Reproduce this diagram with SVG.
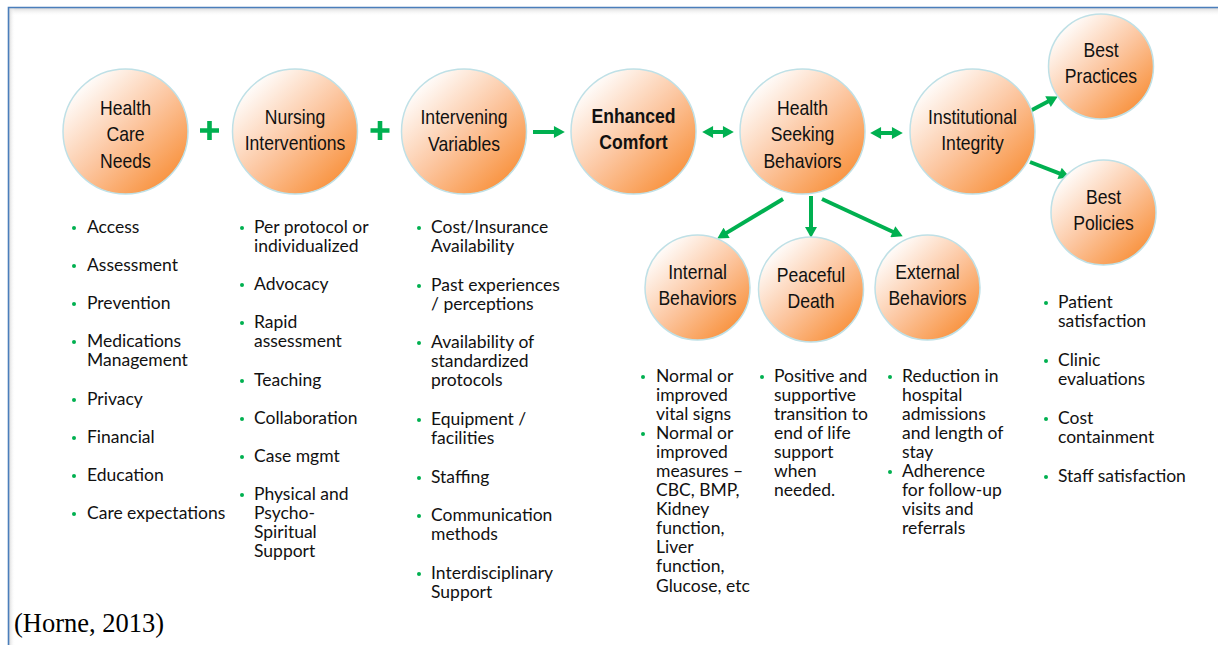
<svg xmlns="http://www.w3.org/2000/svg" width="1218" height="645" viewBox="0 0 1218 645">
  <style>
    .node circle { fill: url(#orb); stroke: #bfe0e6; stroke-width: 1.5; }
    .lbl { font-family: "Liberation Sans", Arial, sans-serif; font-size: 20px; fill: #111; text-anchor: middle; }
    .lbl.b { font-weight: bold; }
    .list { font-family: Lato, "Noto Sans", sans-serif; font-size: 17.5px; fill: #111; }
    .dot { fill: #00b050; }
    .conn line { stroke: #00b050; stroke-width: 4; }
    .plus { fill: #00b050; }
    .cite { font-family: "Liberation Serif", "Times New Roman", serif; font-size: 26.5px; fill: #000; }
  </style>
  <defs>
    <linearGradient id="orb" x1="0.15" y1="0.1" x2="0.9" y2="0.9">
      <stop offset="0" stop-color="#ffffff"/>
      <stop offset="0.5" stop-color="#fcc6a0"/>
      <stop offset="1" stop-color="#f88f38"/>
    </linearGradient>
    <linearGradient id="shadeTop" x1="0" y1="0" x2="0" y2="1">
      <stop offset="0" stop-color="#d9d9d9"/>
      <stop offset="1" stop-color="#ffffff" stop-opacity="0"/>
    </linearGradient>
    <linearGradient id="shadeLeft" x1="0" y1="0" x2="1" y2="0">
      <stop offset="0" stop-color="#d9d9d9"/>
      <stop offset="1" stop-color="#ffffff" stop-opacity="0"/>
    </linearGradient>
    <marker id="head" markerUnits="userSpaceOnUse" markerWidth="12" markerHeight="12" viewBox="0 0 10 11" refX="1" refY="5.5" orient="auto-start-reverse">
      <path d="M0,0 L10,5.5 L0,11 Z" fill="#00b050"/>
    </marker>
  </defs>

  <rect width="1218" height="645" fill="#ffffff"/>

  <!-- frame -->
  <rect x="9" y="8" width="1209" height="8" fill="url(#shadeTop)"/>
  <rect x="9" y="8" width="6" height="637" fill="url(#shadeLeft)"/>
  <path d="M8.5,645 V7.5 H1218" fill="none" stroke="#4a7ebb" stroke-width="1.6"/>

  <!-- connectors -->
  <g id="connectors" class="conn">
    <line x1="533" y1="132" x2="555" y2="132" marker-end="url(#head)"/>
    <line x1="712" y1="132" x2="724" y2="132" marker-start="url(#head)" marker-end="url(#head)"/>
    <line x1="880" y1="133" x2="893" y2="133" marker-start="url(#head)" marker-end="url(#head)"/>
    <line x1="1030" y1="111" x2="1049" y2="101.1" marker-end="url(#head)"/>
    <line x1="1030" y1="162" x2="1060.6" y2="173.8" marker-end="url(#head)"/>
    <line x1="783" y1="199" x2="725.7" y2="233.4" marker-end="url(#head)"/>
    <line x1="811" y1="196" x2="811" y2="228" marker-end="url(#head)"/>
    <line x1="822" y1="199" x2="893.8" y2="232.2" marker-end="url(#head)"/>
    <path class="plus" d="M200,128.2 H207.2 V121 H211.8 V128.2 H219 V132.8 H211.8 V140 H207.2 V132.8 H200 Z"/>
    <path class="plus" d="M370.5,128.2 H377.7 V121 H382.3 V128.2 H389.5 V132.8 H382.3 V140 H377.7 V132.8 H370.5 Z"/>
  </g>

  <!-- nodes -->
  <g id="health-care-needs" class="node">
    <circle cx="125.5" cy="131.5" r="62.5"/>
    <g transform="translate(125.5,0) scale(0.88,1)">
      <text class="lbl" x="0" y="115">Health</text>
      <text class="lbl" x="0" y="141.5">Care</text>
      <text class="lbl" x="0" y="168">Needs</text>
    </g>
  </g>
  <g id="nursing-interventions" class="node">
    <circle cx="295" cy="131.5" r="62.5"/>
    <g transform="translate(295,0) scale(0.88,1)">
      <text class="lbl" x="0" y="124">Nursing</text>
      <text class="lbl" x="0" y="150.5">Interventions</text>
    </g>
  </g>
  <g id="intervening-variables" class="node">
    <circle cx="464" cy="131.5" r="62.5"/>
    <g transform="translate(464,0) scale(0.88,1)">
      <text class="lbl" x="0" y="124.5">Intervening</text>
      <text class="lbl" x="0" y="151">Variables</text>
    </g>
  </g>
  <g id="enhanced-comfort" class="node">
    <circle cx="633.5" cy="131.5" r="62.5"/>
    <g transform="translate(633.5,0) scale(0.88,1)">
      <text class="lbl b" x="0" y="123">Enhanced</text>
      <text class="lbl b" x="0" y="149.5">Comfort</text>
    </g>
  </g>
  <g id="health-seeking-behaviors" class="node">
    <circle cx="802.5" cy="131.5" r="62.5"/>
    <g transform="translate(802.5,0) scale(0.88,1)">
      <text class="lbl" x="0" y="115">Health</text>
      <text class="lbl" x="0" y="141.5">Seeking</text>
      <text class="lbl" x="0" y="168">Behaviors</text>
    </g>
  </g>
  <g id="institutional-integrity" class="node">
    <circle cx="972.5" cy="131.5" r="62.5"/>
    <g transform="translate(972.5,0) scale(0.88,1)">
      <text class="lbl" x="0" y="124">Institutional</text>
      <text class="lbl" x="0" y="150.5">Integrity</text>
    </g>
  </g>
  <g id="best-practices" class="node">
    <circle cx="1101" cy="66.5" r="52.5"/>
    <g transform="translate(1101,0) scale(0.88,1)">
      <text class="lbl" x="0" y="57">Best</text>
      <text class="lbl" x="0" y="83">Practices</text>
    </g>
  </g>
  <g id="best-policies" class="node">
    <circle cx="1103.5" cy="212.5" r="52.5"/>
    <g transform="translate(1103.5,0) scale(0.88,1)">
      <text class="lbl" x="0" y="204">Best</text>
      <text class="lbl" x="0" y="230">Policies</text>
    </g>
  </g>
  <g id="internal-behaviors" class="node">
    <circle cx="697.5" cy="287.5" r="52.5"/>
    <g transform="translate(697.5,0) scale(0.88,1)">
      <text class="lbl" x="0" y="279">Internal</text>
      <text class="lbl" x="0" y="305">Behaviors</text>
    </g>
  </g>
  <g id="peaceful-death" class="node">
    <circle cx="811" cy="289.5" r="52.5"/>
    <g transform="translate(811,0) scale(0.88,1)">
      <text class="lbl" x="0" y="282">Peaceful</text>
      <text class="lbl" x="0" y="308">Death</text>
    </g>
  </g>
  <g id="external-behaviors" class="node">
    <circle cx="927.5" cy="287.5" r="52.5"/>
    <g transform="translate(927.5,0) scale(0.88,1)">
      <text class="lbl" x="0" y="279">External</text>
      <text class="lbl" x="0" y="305">Behaviors</text>
    </g>
  </g>

  <!-- bullet lists -->
  <g id="list-needs">
    <circle class="dot" cx="74" cy="228" r="2"/><text class="list" x="87" y="233">Access</text>
    <circle class="dot" cx="74" cy="266" r="2"/><text class="list" x="87" y="271">Assessment</text>
    <circle class="dot" cx="74" cy="304" r="2"/><text class="list" x="87" y="309">Prevention</text>
    <circle class="dot" cx="74" cy="342" r="2"/><text class="list" x="87" y="347">Medications</text>
    <text class="list" x="87" y="366">Management</text>
    <circle class="dot" cx="74" cy="400" r="2"/><text class="list" x="87" y="405">Privacy</text>
    <circle class="dot" cx="74" cy="438" r="2"/><text class="list" x="87" y="443">Financial</text>
    <circle class="dot" cx="74" cy="476" r="2"/><text class="list" x="87" y="481">Education</text>
    <circle class="dot" cx="74" cy="514" r="2"/><text class="list" x="87" y="519">Care expectations</text>
  </g>
  <g id="list-interventions">
    <circle class="dot" cx="242" cy="228" r="2"/><text class="list" x="254" y="233">Per protocol or</text>
    <text class="list" x="254" y="252">individualized</text>
    <circle class="dot" cx="242" cy="285" r="2"/><text class="list" x="254" y="290">Advocacy</text>
    <circle class="dot" cx="242" cy="323" r="2"/><text class="list" x="254" y="328">Rapid</text>
    <text class="list" x="254" y="347">assessment</text>
    <circle class="dot" cx="242" cy="381" r="2"/><text class="list" x="254" y="386">Teaching</text>
    <circle class="dot" cx="242" cy="419" r="2"/><text class="list" x="254" y="424">Collaboration</text>
    <circle class="dot" cx="242" cy="457" r="2"/><text class="list" x="254" y="462">Case mgmt</text>
    <circle class="dot" cx="242" cy="495" r="2"/><text class="list" x="254" y="500">Physical and</text>
    <text class="list" x="254" y="519">Psycho-</text>
    <text class="list" x="254" y="538">Spiritual</text>
    <text class="list" x="254" y="557">Support</text>
  </g>
  <g id="list-variables">
    <circle class="dot" cx="419" cy="228" r="2"/><text class="list" x="431" y="233">Cost/Insurance</text>
    <text class="list" x="431" y="252">Availability</text>
    <circle class="dot" cx="419" cy="286" r="2"/><text class="list" x="431" y="291">Past experiences</text>
    <text class="list" x="431" y="310">/ perceptions</text>
    <circle class="dot" cx="419" cy="343" r="2"/><text class="list" x="431" y="348">Availability of</text>
    <text class="list" x="431" y="367">standardized</text>
    <text class="list" x="431" y="386">protocols</text>
    <circle class="dot" cx="419" cy="420" r="2"/><text class="list" x="431" y="425">Equipment /</text>
    <text class="list" x="431" y="444">facilities</text>
    <circle class="dot" cx="419" cy="478" r="2"/><text class="list" x="431" y="483">Staffing</text>
    <circle class="dot" cx="419" cy="516" r="2"/><text class="list" x="431" y="521">Communication</text>
    <text class="list" x="431" y="540">methods</text>
    <circle class="dot" cx="419" cy="574" r="2"/><text class="list" x="431" y="579">Interdisciplinary</text>
    <text class="list" x="431" y="598">Support</text>
  </g>
  <g id="list-internal">
    <circle class="dot" cx="643" cy="377" r="2"/><text class="list" x="656" y="382">Normal or</text>
    <text class="list" x="656" y="401">improved</text>
    <text class="list" x="656" y="420">vital signs</text>
    <circle class="dot" cx="643" cy="434" r="2"/><text class="list" x="656" y="439">Normal or</text>
    <text class="list" x="656" y="458">improved</text>
    <text class="list" x="656" y="477">measures –</text>
    <text class="list" x="656" y="496">CBC, BMP,</text>
    <text class="list" x="656" y="515">Kidney</text>
    <text class="list" x="656" y="534">function,</text>
    <text class="list" x="656" y="553">Liver</text>
    <text class="list" x="656" y="572">function,</text>
    <text class="list" x="656" y="592">Glucose, etc</text>
  </g>
  <g id="list-peaceful">
    <circle class="dot" cx="762" cy="377" r="2"/><text class="list" x="774" y="382">Positive and</text>
    <text class="list" x="774" y="401">supportive</text>
    <text class="list" x="774" y="420">transition to</text>
    <text class="list" x="774" y="439">end of life</text>
    <text class="list" x="774" y="458">support</text>
    <text class="list" x="774" y="477">when</text>
    <text class="list" x="774" y="496">needed.</text>
  </g>
  <g id="list-external">
    <circle class="dot" cx="890" cy="377" r="2"/><text class="list" x="902" y="382">Reduction in</text>
    <text class="list" x="902" y="401">hospital</text>
    <text class="list" x="902" y="420">admissions</text>
    <text class="list" x="902" y="439">and length of</text>
    <text class="list" x="902" y="458">stay</text>
    <circle class="dot" cx="890" cy="472" r="2"/><text class="list" x="902" y="477">Adherence</text>
    <text class="list" x="902" y="496">for follow-up</text>
    <text class="list" x="902" y="515">visits and</text>
    <text class="list" x="902" y="534">referrals</text>
  </g>
  <g id="list-outcomes">
    <circle class="dot" cx="1046" cy="303" r="2"/><text class="list" x="1058" y="308">Patient</text>
    <text class="list" x="1058" y="327">satisfaction</text>
    <circle class="dot" cx="1046" cy="361" r="2"/><text class="list" x="1058" y="366">Clinic</text>
    <text class="list" x="1058" y="385">evaluations</text>
    <circle class="dot" cx="1046" cy="419" r="2"/><text class="list" x="1058" y="424">Cost</text>
    <text class="list" x="1058" y="443">containment</text>
    <circle class="dot" cx="1046" cy="477" r="2"/><text class="list" x="1058" y="482">Staff satisfaction</text>
  </g>

  <text class="cite" x="14" y="632">(Horne, 2013)</text>
</svg>
